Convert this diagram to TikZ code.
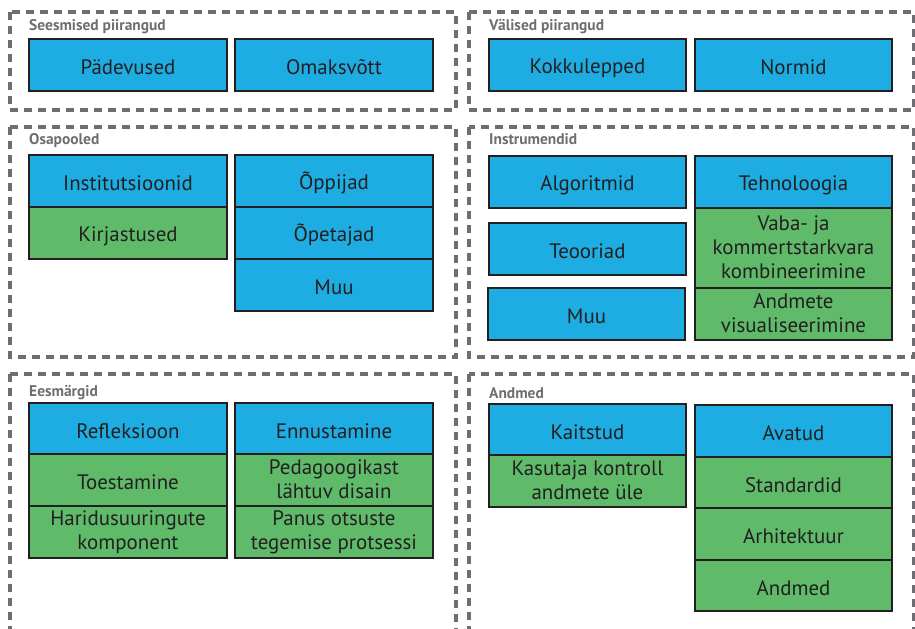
\documentclass[tikz,border=0pt]{standalone}
\usepackage{fontspec}
\setmainfont{PT Sans}
\definecolor{cellblue}{HTML}{1EADE3}
\definecolor{cellgreen}{HTML}{5FBB6A}
\definecolor{ink}{HTML}{231F20}
\definecolor{framegray}{HTML}{6D6E71}
% strut that puts each line's baseline low enough to centre the letters
\newcommand{\cellstrut}{\rule[-1.5bp]{0pt}{22bp}}
% cell text: fixed line pitch, even when a line has descenders
\newcommand{\cellfont}{\fontsize{21}{24}\selectfont
  \lineskiplimit=-100pt\relax\lineskip=0pt\relax}
\begin{document}
\begin{tikzpicture}[x=1bp,y=-1bp,
  cell/.style={draw=ink, line width=1.2bp, text=ink, inner sep=0pt,
    align=center, font=\cellfont,
    minimum width=198bp, execute at begin node=\cellstrut},
  bluecell/.style={cell, fill=cellblue},
  greencell/.style={cell, fill=cellgreen},
  panel/.style={draw=framegray, line width=3.5bp, dash pattern=on 8bp off 6bp},
  paneltitle/.style={anchor=base west, inner sep=0pt, text=framegray,
    font=\fontsize{15.5}{17}\selectfont\bfseries}]
\useasboundingbox (0,0) rectangle (915,629);
\clip (0,0) rectangle (915,629);

% dashed group frames
\draw[panel] (10,12) rectangle (456,110);
\draw[panel] (469,12) rectangle (914,110);
\draw[panel] (10,127) rectangle (456,357);
\draw[panel] (469,127) rectangle (914,357);
\draw[panel] (10,374) rectangle (456,660);
\draw[panel] (469,374) rectangle (914,660);

% group titles
\node[paneltitle] (t1) at (29,31) {Seesmised piirangud};
\node[paneltitle] (t2) at (489,31) {Välised piirangud};
\node[paneltitle] (t3) at (29,145) {Osapooled};
\node[paneltitle] (t4) at (489,145) {Instrumendid};
\node[paneltitle] (t5) at (29,396) {Eesmärgid};
\node[paneltitle] (t6) at (489,398) {Andmed};

% Seesmised piirangud
\node[bluecell, minimum height=52bp] (padevused) at (128,65) {Pädevused};
\node[bluecell, minimum height=52bp] (omaksvott) at (334,65) {Omaksvõtt};

% Välised piirangud
\node[bluecell, minimum width=197bp, minimum height=52bp] (kokkulepped) at (587.5,65) {Kokkulepped};
\node[bluecell, minimum width=197bp, minimum height=52bp] (normid) at (793.5,65) {Normid};

% Osapooled
\node[bluecell, minimum height=52bp] (institutsioonid) at (128,181) {Institutsioonid};
\node[greencell, minimum height=52bp] (kirjastused) at (128,233) {Kirjastused};
\node[bluecell, minimum height=52bp] (oppijad) at (334,181) {Õppijad};
\node[bluecell, minimum height=52bp] (opetajad) at (334,233) {Õpetajad};
\node[bluecell, minimum height=52bp] (muu1) at (334,285) {Muu};

% Instrumendid
\node[bluecell, minimum width=197bp, minimum height=52bp] (algoritmid) at (587.5,182) {Algoritmid};
\node[bluecell, minimum width=197bp, minimum height=52bp] (teooriad) at (587.5,249) {Teooriad};
\node[bluecell, minimum width=197bp, minimum height=52bp] (muu2) at (586.5,314) {Muu};
\node[bluecell, minimum width=197bp, minimum height=52bp] (tehnoloogia) at (793.5,182) {Tehnoloogia};
\node[greencell, minimum width=197bp, minimum height=80bp] (vaba) at (793.5,248) {Vaba- ja\\\cellstrut kommertstarkvara\\\cellstrut kombineerimine};
\node[greencell, minimum width=197bp, minimum height=52bp] (visual) at (793.5,314) {Andmete\\\cellstrut visualiseerimine};

% Eesmärgid
\node[bluecell, minimum height=51bp] (refleksioon) at (128,428.5) {Refleksioon};
\node[greencell, minimum height=52bp] (toestamine) at (128,480) {Toestamine};
\node[greencell, minimum height=52bp] (haridus) at (128,532) {Haridusuuringute\\\cellstrut komponent};
\node[bluecell, minimum height=51bp] (ennustamine) at (334,428.5) {Ennustamine};
\node[greencell, minimum height=52bp] (pedagoogika) at (334,480) {Pedagoogikast\\\cellstrut lähtuv disain};
\node[greencell, minimum height=52bp] (panus) at (334,532) {Panus otsuste\\\cellstrut tegemise protsessi};

% Andmed
\node[bluecell, minimum width=197bp, minimum height=51bp] (kaitstud) at (587.5,429.5) {Kaitstud};
\node[greencell, minimum width=197bp, minimum height=52bp] (kasutaja) at (587.5,481) {Kasutaja kontroll\\\cellstrut andmete üle};
\node[bluecell, minimum width=197bp, minimum height=52bp] (avatud) at (793.5,431) {Avatud};
\node[greencell, minimum width=197bp, minimum height=51bp] (standardid) at (793.5,482.5) {Standardid};
\node[greencell, minimum width=197bp, minimum height=52bp] (arhitektuur) at (793.5,534) {Arhitektuur};
\node[greencell, minimum width=197bp, minimum height=51bp] (andmed) at (793.5,585.5) {Andmed};
\end{tikzpicture}
\end{document}
